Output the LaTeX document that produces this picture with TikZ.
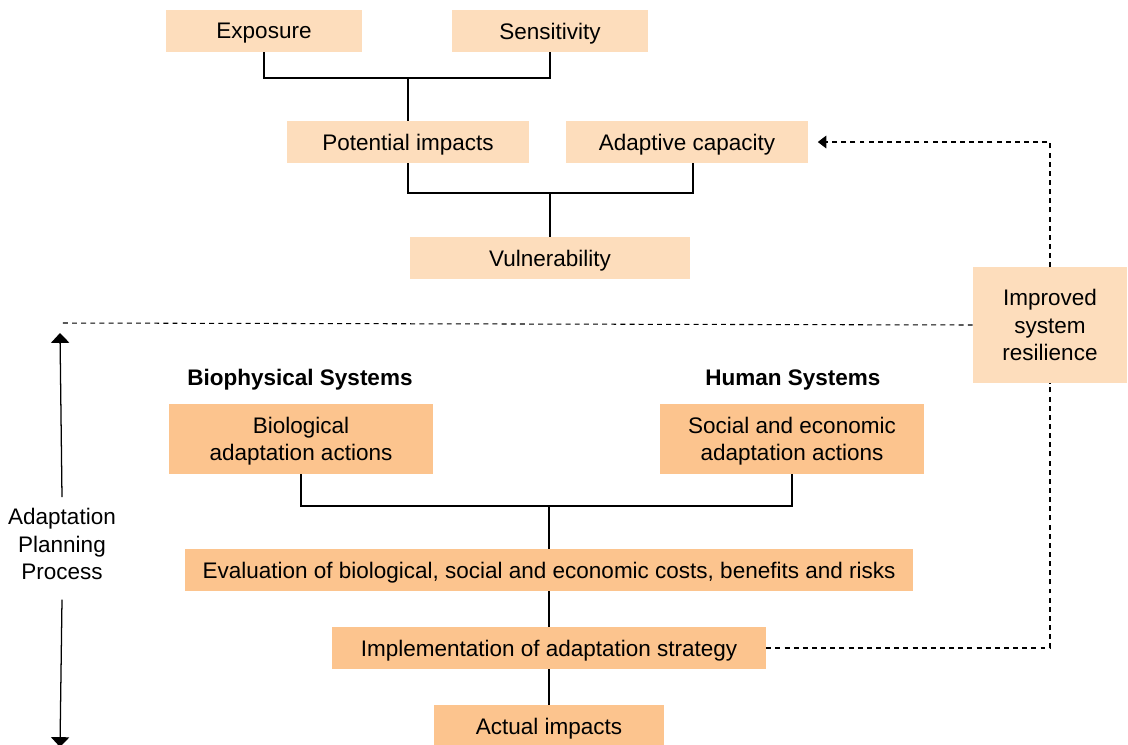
\documentclass[tikz,border=0pt]{standalone}
\usepackage{fontspec}
\setmainfont{Liberation Sans}
\usepackage{xcolor}
\usetikzlibrary{arrows.meta}

\definecolor{peachlight}{RGB}{253,221,188}
\definecolor{peachdark}{RGB}{252,196,142}

\begin{document}
\begin{tikzpicture}[x=0.025cm,y=-0.025cm,
		font=\fontsize{16}{19.5}\selectfont,
		lightbox/.style={fill=peachlight,inner sep=0pt,minimum height=1.05cm,align=center,text depth=-0.8pt},
		darkbox/.style={fill=peachdark,inner sep=0pt,minimum height=1.05cm,align=center,text depth=-0.8pt},
		heading/.style={font=\fontsize{16}{19.5}\selectfont\bfseries},
		link/.style={draw,line width=0.9pt},
		dashlink/.style={draw,line width=0.75pt,dash pattern=on 3.5pt off 3pt}]
		\useasboundingbox (0,0) rectangle (1128,744);
		% vulnerability assessment
		\node[lightbox,minimum width=4.9cm] (E) at (264,31) {Exposure};
		\node[lightbox,minimum width=4.9cm] (S) at (550,31) {Sensitivity};
		\node[lightbox,minimum width=6.025cm] (PI) at (408,142) {Potential impacts};
		\node[lightbox,minimum width=6.025cm] (AC) at (687,142) {Adaptive capacity};
		\node[lightbox,minimum width=6.975cm] (V) at (550,258) {Vulnerability};
		\node[lightbox,minimum width=3.85cm,minimum height=2.875cm,text depth=0pt] (R) at (1050,325) {Improved\\system\\resilience};
		% adaptation planning
		\node[heading] (BS) at (300,380) {Biophysical Systems};
		\node[heading] (HS) at (793,380) {Human Systems};
		\node[darkbox,minimum width=6.6cm,minimum height=1.75cm] (BA) at (301,439) {Biological\\adaptation actions};
		\node[darkbox,minimum width=6.6cm,minimum height=1.75cm] (SA) at (792,439) {Social and economic\\adaptation actions};
		\node[darkbox,minimum width=18.175cm] (EV) at (549,570) {Evaluation of biological, social and economic costs, benefits and risks};
		\node[darkbox,minimum width=10.85cm] (IM) at (549,648) {Implementation of adaptation strategy};
		\node[darkbox,minimum width=5.725cm] (AI) at (549,726) {Actual impacts};
		\node[align=center,inner sep=2pt] (APP) at (62,544) {Adaptation\\Planning\\Process};
		%
		\coordinate (J1) at (408,78);
		\coordinate (J2) at (550,193);
		\coordinate (J3) at (549,506);
		\coordinate (L) at (60,323);
		\coordinate (T) at (60,333);
		\coordinate (B) at (60,747);
		% solid connectors
		\path[link]
		(E.south) |- (J1) -| (S.south)
		(J1) -- (PI.north)
		(PI.south) |- (J2) -| ([xshift=0.15cm]AC.south)
		(J2) -- (V.north)
		(BA.south) |- (J3) -| (SA.south)
		(J3) -- (EV.north)
		(EV.south) -- (IM.north)
		(IM.south) -- (AI.north);
		% dashed feedback
		\path[dashlink] (IM.east) -| (R.south);
		\path[dashlink,-{Triangle[length=6pt,width=9pt]},shorten >=0.25cm] (R.north) |- (AC.east);
		\path[dashlink] (R.west) -- (L);
		% planning process arrows
		\draw[line width=0.9pt,-{Triangle[length=7pt,width=13pt]}] ([yshift=0.2cm]APP.north) -- (T);
		\draw[line width=0.9pt,-{Triangle[length=7pt,width=13pt]}] ([yshift=-0.42cm]APP.south) -- (B);
	\end{tikzpicture}
\end{document}
